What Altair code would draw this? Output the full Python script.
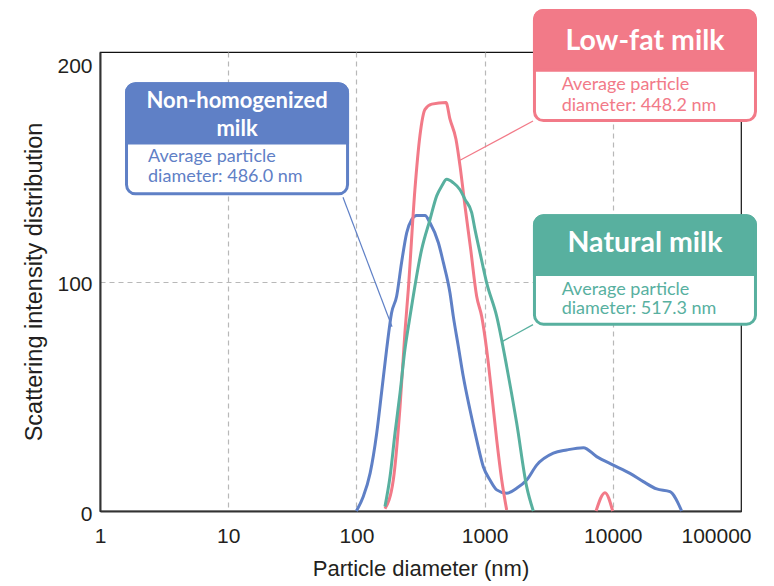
import altair as alt
import pandas as pd

# ---------------- data ----------------
series_names = ["Non-homogenized milk", "Low-fat milk", "Natural milk"]
series_colors = ["#5f80c6", "#f27a88", "#58b09f"]

nh_x = [100, 113, 128, 144, 157, 172, 188, 206, 225, 247, 270, 295, 343, 375, 436, 477, 537,
        570, 624, 682, 769, 867, 977, 1101, 1243, 1487, 1779, 2129,
        2547, 3436, 4369, 5894, 7487, 10090, 13620, 17300, 21990, 27920, 34450]
nh_y = [0, 6.2, 16.5, 33.9, 51.4, 70.3, 86.3, 93.6, 108.2, 121.3, 127, 128.8, 128.8, 125.6, 116.9, 108.2, 95,
        84.8, 71.7, 58.6, 44.1, 31, 19.3, 13.5, 9.2, 7.7, 9.9, 13.5,
        20, 25.2, 26.6, 27.6, 23.7, 20, 16.4, 12.8, 9.6, 8.4, 0]

lf_x = [167, 194, 219, 239, 254, 286, 313, 343, 387, 500, 537, 598, 643, 703, 779,
        867, 949, 1038, 1135, 1243, 1360, 1487]
lf_y = [1, 13.5, 45.5, 77.7, 96.5, 140, 163.5, 175, 177.3, 178, 170.7, 162, 150.4, 132.9, 114,
        93.6, 84.8, 70.3, 51.4, 31, 13.5, 0.4]
lf_spike_x = [7400, 8690, 9980]
lf_spike_y = [0, 8, 0]

nt_x = [167, 183, 200, 219, 239, 262, 323, 375, 423, 463, 506, 570, 643, 703, 793,
        841, 921, 1038, 1243, 1487, 1779, 2129, 2399]
nt_y = [1.9, 15, 33.9, 51.4, 70.3, 84.8, 114, 127, 137.3, 141.6, 144.5, 143, 140, 135.8, 130,
        122.7, 112.5, 99.4, 84.8, 63, 38.3, 10.6, 0]

x_ticks = [1, 10, 100, 1000, 10000, 100000]
y_ticks = [0, 100, 200]

# annotation texts
titles = [["Non-homogenized", "milk"], ["Low-fat milk"], ["Natural milk"]]
bodies = [["Average particle", "diameter: 486.0 nm"],
          ["Average particle", "diameter: 448.2 nm"],
          ["Average particle", "diameter: 517.3 nm"]]

# ---------------- tables ----------------
rows = []
def add(name, seg, xs, ys):
    for xv, yv in zip(xs, ys):
        rows.append({"series": name, "seg": seg, "x": xv, "y": yv})
add(series_names[0], "a", nh_x, nh_y)
add(series_names[1], "a", lf_x, lf_y)
add(series_names[1], "b", lf_spike_x, lf_spike_y)
add(series_names[2], "a", nt_x, nt_y)
df = pd.DataFrame(rows)

# annotation anchors in data units (log-x, linear-y)
box_x1 = [1.61, 2449, 2449]
box_x2 = [85.3, 129700, 129700]
box_top = [186.2, 218.1, 128.6]
box_head = [160.3, 192.1, 103.1]
box_bot = [138.2, 170.1, 81.4]
title_y = [[178.6, 166.4], [204.8], [116.6]]
title_size = [22, 28.5, 28.5]
body_x = [2.37, 3990, 3990]
body_y = [[154.4, 145.6], [185.6, 176.6], [96.5, 87.8]]
lead_from = [(78.6, 136.7), (2386, 169.9), (2386, 81.2)]
lead_to = [(189.6, 80.3), (643, 152.8), (1367, 73.8)]

boxes, heads, bodytxt, leads = [], [], [], []
for i, name in enumerate(series_names):
    boxes.append({"series": name, "x1": box_x1[i], "x2": box_x2[i],
                  "top": box_top[i], "head": box_head[i], "bot": box_bot[i]})
    cx = (box_x1[i] * box_x2[i]) ** 0.5
    for t, ty in zip(titles[i], title_y[i]):
        heads.append({"series": name, "x": cx, "y": ty, "text": t, "size": title_size[i]})
    for t, ty in zip(bodies[i], body_y[i]):
        bodytxt.append({"series": name, "x": body_x[i], "y": ty, "text": t})
    leads.append({"series": name, "x": lead_from[i][0], "y": lead_from[i][1],
                  "x2": lead_to[i][0], "y2": lead_to[i][1]})
boxes = pd.DataFrame(boxes)
heads = pd.DataFrame(heads)
bodytxt = pd.DataFrame(bodytxt)
leads = pd.DataFrame(leads)

# ---------------- chart ----------------
xscale = alt.Scale(type="log", domain=[1, 100000], nice=False)
yscale = alt.Scale(domain=[0, 200], nice=False, zero=False)
cscale = alt.Scale(domain=series_names, range=series_colors)

xaxis = alt.Axis(values=x_ticks, format="d", title="Particle diameter (nm)",
                 ticks=False, labelPadding=14, titlePadding=12, labelFlush=False,
                 labelOffset={"condition": {"test": "datum.value == 100000", "value": -25}, "value": 0},
                 gridOpacity={"condition": {"test": "datum.value == 1 || datum.value == 100000", "value": 0}, "value": 1},
                 grid=True)
yaxis = alt.Axis(values=y_ticks, title="Scattering intensity distribution",
                 ticks=False, labelPadding=8, titlePadding=10, labelOffset=3,
                 labelBaseline={"condition": {"test": "datum.value == 200", "value": "top"}, "value": "middle"},
                 gridOpacity={"condition": {"test": "datum.value == 0 || datum.value == 200", "value": 0}, "value": 1},
                 grid=True)

lines = alt.Chart(df).mark_line(strokeWidth=3, interpolate="monotone").encode(
    x=alt.X("x:Q", scale=xscale, axis=xaxis),
    y=alt.Y("y:Q", scale=yscale, axis=yaxis),
    color=alt.Color("series:N", scale=cscale, legend=None),
    detail="seg:N",
)

lead = alt.Chart(leads).mark_rule(strokeWidth=1.2).encode(
    x=alt.X("x:Q", scale=xscale), x2="x2:Q",
    y=alt.Y("y:Q", scale=yscale), y2="y2:Q",
    color=alt.Color("series:N", scale=cscale, legend=None),
)

box = alt.Chart(boxes).mark_rect(fill="white", strokeWidth=3, cornerRadius=9).encode(
    x=alt.X("x1:Q", scale=xscale), x2="x2:Q",
    y=alt.Y("top:Q", scale=yscale), y2="bot:Q",
    stroke=alt.Color("series:N", scale=cscale, legend=None),
)
head = alt.Chart(boxes).mark_rect(strokeWidth=3, cornerRadiusTopLeft=9, cornerRadiusTopRight=9).encode(
    x=alt.X("x1:Q", scale=xscale), x2="x2:Q",
    y=alt.Y("top:Q", scale=yscale), y2="head:Q",
    fill=alt.Color("series:N", scale=cscale, legend=None),
    stroke=alt.Color("series:N", scale=cscale, legend=None),
)
headtxt = alt.Chart(heads).mark_text(
    font="Lato", fontWeight="bold",
    color="white", align="center", baseline="middle").encode(
    x=alt.X("x:Q", scale=xscale), y=alt.Y("y:Q", scale=yscale),
    text="text:N", size=alt.Size("size:Q", scale=None, legend=None),
)
btxt = alt.Chart(bodytxt).mark_text(
    font="Lato", fontSize=18,
    align="left", baseline="middle").encode(
    x=alt.X("x:Q", scale=xscale), y=alt.Y("y:Q", scale=yscale),
    text="text:N", color=alt.Color("series:N", scale=cscale, legend=None),
)

chart = alt.layer(lines, lead, box, head, headtxt, btxt).properties(
    width=641, height=459,
    autosize=alt.AutoSizeParams(type="none"),
    padding={"left": 92, "top": 44, "right": 25, "bottom": 73},
).configure_view(
    stroke="#111111", strokeWidth=1.2
).configure_axis(
    domainColor="#333333", domainWidth=2,
    gridColor="#b8b8b8", gridDash=[5, 4], gridWidth=1.2,
    labelFont="Liberation Sans", labelFontSize=21, labelColor="#231f20",
    titleFont="Liberation Sans", titleFontWeight="normal", titleColor="#231f20",
    titleFontSize=22,
).configure_axisY(titleFontSize=23.5)

chart.save("out.html", embed_options={"renderer": "svg", "actions": False})
